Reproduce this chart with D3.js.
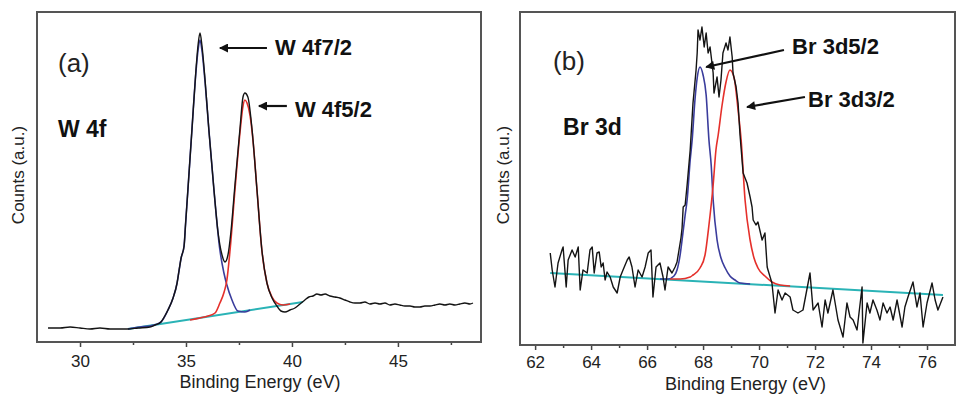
<!DOCTYPE html>
<html lang="en">
<head>
<meta charset="utf-8">
<title>XPS W 4f / Br 3d</title>
<style>
  * { margin: 0; padding: 0; box-sizing: border-box; }
  body { background: #fff; overflow: hidden; font-family: "Liberation Sans", Arial, sans-serif; }
  svg { display: block; }
  .frame { fill: none; stroke: #555; stroke-width: 2; }
  .tick text { font-size: 17px; fill: #222; font-family: "Liberation Sans", Arial, sans-serif; }
  .tick line { stroke: #444; stroke-width: 1.5; }
  .axis-title { font-size: 18px; fill: #222; }
  .counts { font-size: 17px; fill: #222; }
  .panel-id { font-size: 26px; fill: #222; }
  .elem { font-size: 23px; font-weight: bold; fill: #111; }
  .peak-label { font-size: 22px; font-weight: bold; fill: #111; }
</style>
</head>
<body>
<svg id="chart" width="958" height="396"></svg>
<script src="https://cdn.jsdelivr.net/npm/d3@7"></script>
<script>
// ---- panel (a): W 4f, [binding energy eV, counts a.u.] ----
const wMeasured = [
  [28.49,14],[29.06,14],[29.53,15],[30.00,14],[30.47,13],[30.94,14],[31.42,13],[31.89,13],
  [32.26,13],[32.74,14],[33.30,15],[33.54,17],[33.82,20],[34.00,26],[34.15,32],[34.39,44],
  [34.58,59],[34.67,71],[34.77,84],[34.91,96],[34.98,118],[35.09,152],[35.28,212],[35.47,272],[35.57,297],[35.66,309],
  [35.75,297],[35.90,262],[36.08,212],[36.32,152],[36.51,110],[36.70,87],[36.84,80],[36.98,87],
  [37.12,110],[37.31,157],[37.55,214],[37.69,245],[37.78,249],[37.92,245],[38.11,214],[38.35,152],
  [38.58,92],[38.82,59],[39.06,44],[39.29,36],[39.48,31],[39.67,30],[39.91,32],[40.14,34],
  [40.38,38],[40.61,42],[40.80,45],[40.99,46],[41.18,48],[41.37,47],[41.56,48],[41.79,46],
  [42.03,45],[42.26,44],[42.50,42],[42.74,40],[42.97,39],[43.21,39],[43.44,40],[43.68,38],
  [43.92,39],[44.15,38],[44.39,39],[44.62,37],[44.86,38],[45.09,37],[45.33,36],[45.57,36],
  [45.80,35],[46.04,35],[46.27,36],[46.51,36],[46.75,37],[46.98,38],[47.22,37],[47.45,38],
  [47.69,37],[47.92,38],[48.16,39],[48.40,38],[48.54,39]
];
const wFit72 = [
  [32.26,13],[32.83,15],[33.30,16],[33.82,20],[34.15,32],[34.39,44],[34.58,59],[34.67,71],[34.77,84],[34.91,96],
  [34.98,118],[35.09,152],[35.28,212],[35.47,270],[35.57,292],[35.66,302],[35.75,292],[35.90,260],[36.08,212],[36.32,152],
  [36.60,92],[36.79,69],[36.93,57],[37.17,42],[37.45,31],[37.78,30],[38.02,32]
];
const wFit52 = [
  [35.19,22],[35.66,24],[36.04,26],[36.37,29],[36.60,39],[36.80,50],[36.93,62],[37.08,92],[37.31,152],
  [37.55,210],[37.69,236],[37.78,242],[37.88,239],[38.02,227],[38.16,202],[38.35,152],[38.58,92],
  [38.82,59],[39.06,45],[39.29,39],[39.58,37],[39.91,38]
];
const wBackground = [[32.26,13],[40.52,40]];

// ---- panel (b): Br 3d ----
const brMeasured = [
  [62.54,92],[62.61,75],[62.71,58],[62.82,82],[62.96,95],[63.00,98],[63.11,58],[63.18,85],
  [63.32,95],[63.43,88],[63.54,98],[63.61,55],[63.71,75],[63.86,72],[63.96,95],[64.04,98],
  [64.11,72],[64.21,92],[64.29,93],[64.36,78],[64.43,82],[64.50,65],[64.57,73],[64.68,68],
  [64.79,58],[64.93,52],[65.04,68],[65.14,75],[65.29,85],[65.36,88],[65.46,78],[65.57,58],
  [65.68,75],[65.82,68],[65.93,78],[66.04,92],[66.14,95],[66.21,48],[66.32,78],[66.46,82],
  [66.57,68],[66.64,55],[66.75,78],[66.89,72],[67.00,78],[67.07,83],[67.14,95],[67.21,107],
  [67.25,117],[67.29,138],[67.36,140],[67.43,160],[67.54,195],[67.64,242],[67.75,275],[67.79,292],
  [67.82,315],[67.89,305],[67.96,318],[68.04,298],[68.11,312],[68.18,292],[68.25,298],[68.36,272],
  [68.39,252],[68.50,268],[68.57,248],[68.64,265],[68.71,292],[68.82,302],[68.89,295],[68.96,308],
  [69.04,288],[69.07,272],[69.18,258],[69.25,242],[69.32,210],[69.43,172],[69.57,162],[69.68,148],
  [69.75,138],[69.79,125],[69.89,120],[69.96,123],[70.11,105],[70.21,112],[70.29,78],[70.32,75],
  [70.46,62],[70.57,32],[70.68,55],[70.82,45],[70.93,52],[71.11,48],[71.21,35],[71.39,32],
  [71.57,35],[71.82,72],[71.93,35],[72.11,42],[72.25,18],[72.36,45],[72.46,32],[72.64,55],
  [72.82,25],[73.00,8],[73.14,42],[73.25,28],[73.36,25],[73.50,15],[73.68,58],[73.71,2],
  [73.86,42],[73.96,32],[74.07,45],[74.21,35],[74.32,25],[74.43,42],[74.57,32],[74.68,38],
  [74.79,25],[74.93,45],[75.11,18],[75.21,38],[75.32,48],[75.50,63],[75.64,38],[75.75,52],
  [75.86,18],[76.00,42],[76.18,62],[76.29,45],[76.39,35],[76.57,48]
];
const brFit52 = [
  [66.46,66],[66.75,66],[66.96,69],[67.07,75],[67.18,90],[67.25,105],[67.36,130],[67.43,145],
  [67.54,185],[67.61,205],[67.71,245],[67.79,267],[67.89,278],[68.00,270],[68.11,250],[68.21,205],
  [68.29,180],[68.36,145],[68.50,105],[68.64,87],[68.79,77],[68.96,69],[69.14,65],[69.32,62],[69.68,61]
];
const brFit32 = [
  [66.82,66],[67.18,66],[67.54,68],[67.64,70],[67.89,77],[68.07,90],[68.21,120],[68.36,160],
  [68.46,195],[68.54,210],[68.68,240],[68.82,263],[68.96,275],[69.11,267],[69.25,235],[69.36,205],
  [69.50,145],[69.68,105],[69.82,87],[69.96,77],[70.21,69],[70.46,63],[70.75,60],[71.11,59]
];
const brBackground = [[62.54,72],[76.57,50]];

// ticks
const wMajor = [30, 35, 40, 45];
const wMinor = [32.5, 37.5, 42.5, 47.5];
const brMajor = [62, 64, 66, 68, 70, 72, 74, 76];
const brMinor = [63, 65, 67, 69, 71, 73, 75];

const colors = { measured: "#141414", fitA: "#3a3c9c", fitB: "#e5302b", bg: "#2ab3b6" };

const svg = d3.select("#chart");
svg.append("defs").append("marker")
  .attr("id", "arrowhead")
  .attr("viewBox", "0 -5 10 10")
  .attr("refX", 9).attr("refY", 0)
  .attr("markerWidth", 11).attr("markerHeight", 9)
  .attr("markerUnits", "userSpaceOnUse")
  .attr("orient", "auto")
  .append("path").attr("d", "M0,-5L10,0L0,5Z").attr("fill", "#111");

function drawPanel(p) {
  const g = svg.append("g");
  const x = d3.scaleLinear().domain(p.xDomain).range([p.left, p.right]);
  const y = d3.scaleLinear().domain(p.yDomain).range([p.bottom, p.top]);
  const smooth = d3.line().x(d => x(d[0])).y(d => y(d[1])).curve(d3.curveMonotoneX);
  const raw = d3.line().x(d => x(d[0])).y(d => y(d[1]));

  // minor + major ticks
  g.append("g").attr("transform", `translate(0,${p.bottom})`)
    .call(d3.axisBottom(x).tickValues(p.minor).tickSize(3).tickFormat(""))
    .call(a => a.select(".domain").remove());
  g.append("g").attr("transform", `translate(0,${p.bottom})`)
    .call(d3.axisBottom(x).tickValues(p.major).tickSize(5).tickPadding(p.pad).tickFormat(d3.format("d")))
    .call(a => a.select(".domain").remove());

  g.append("rect").attr("class", "frame")
    .attr("x", p.left).attr("y", p.top)
    .attr("width", p.right - p.left).attr("height", p.bottom - p.top);

  g.append("path").datum(p.background).attr("d", raw)
    .attr("fill", "none").attr("stroke", colors.bg).attr("stroke-width", 2);
  g.append("path").datum(p.fitA).attr("d", smooth)
    .attr("fill", "none").attr("stroke", colors.fitA).attr("stroke-width", 1.6);
  g.append("path").datum(p.fitB).attr("d", smooth)
    .attr("fill", "none").attr("stroke", colors.fitB).attr("stroke-width", 1.6);
  g.append("path").datum(p.measured).attr("d", p.smoothData ? smooth : raw)
    .attr("fill", "none").attr("stroke", colors.measured).attr("stroke-width", 1.4)
    .attr("stroke-linejoin", "round");

  // axis titles
  g.append("text").attr("class", "axis-title")
    .attr("x", (p.left + p.right) / 2 + p.titleShift).attr("y", p.titleY)
    .attr("text-anchor", "middle").text("Binding Energy (eV)");
  g.append("text").attr("class", "counts")
    .attr("transform", `translate(${p.countsX},175) rotate(-90)`)
    .attr("text-anchor", "middle").text("Counts (a.u.)");

  // annotations
  g.append("text").attr("class", "panel-id")
    .attr("x", x(p.idPos[0])).attr("y", y(p.idPos[1])).text(p.id);
  g.append("text").attr("class", "elem")
    .attr("x", x(p.elemPos[0])).attr("y", y(p.elemPos[1])).text(p.elem);
  p.peaks.forEach(pk => {
    g.append("text").attr("class", "peak-label")
      .attr("x", x(pk.at[0])).attr("y", y(pk.at[1])).text(pk.label);
    g.append("line")
      .attr("x1", x(pk.from[0])).attr("y1", y(pk.from[1]))
      .attr("x2", x(pk.to[0])).attr("y2", y(pk.to[1]))
      .attr("stroke", "#111").attr("stroke-width", 2.2)
      .attr("marker-end", "url(#arrowhead)");
  });
}

drawPanel({
  left: 37, right: 481, top: 12, bottom: 342,
  xDomain: [27.97, 48.92], yDomain: [0, 330],
  major: wMajor, minor: wMinor, pad: 8,
  measured: wMeasured, fitA: wFit72, fitB: wFit52, background: wBackground, smoothData: true,
  titleY: 388, titleShift: 1, countsX: 24,
  id: "(a)", idPos: [28.96, 270],
  elem: "W 4f", elemPos: [28.96, 205],
  peaks: [
    { label: "W 4f7/2", at: [39.2, 287], from: [38.82, 294], to: [36.6, 294] },
    { label: "W 4f5/2", at: [40.14, 225], from: [39.76, 236], to: [38.44, 236] }
  ]
});

drawPanel({
  left: 520, right: 955, top: 12, bottom: 345,
  xDomain: [61.46, 77], yDomain: [0, 333],
  major: brMajor, minor: brMinor, pad: 6,
  measured: brMeasured, fitA: brFit52, fitB: brFit32, background: brBackground, smoothData: false,
  titleY: 390, titleShift: 8, countsX: 509,
  id: "(b)", idPos: [62.64, 275],
  elem: "Br 3d", elemPos: [63.0, 210],
  peaks: [
    { label: "Br 3d5/2", at: [71.18, 291], from: [70.89, 295], to: [68.11, 278] },
    { label: "Br 3d3/2", at: [71.75, 238], from: [71.64, 248], to: [69.57, 238] }
  ]
});
</script>
</body>
</html>
